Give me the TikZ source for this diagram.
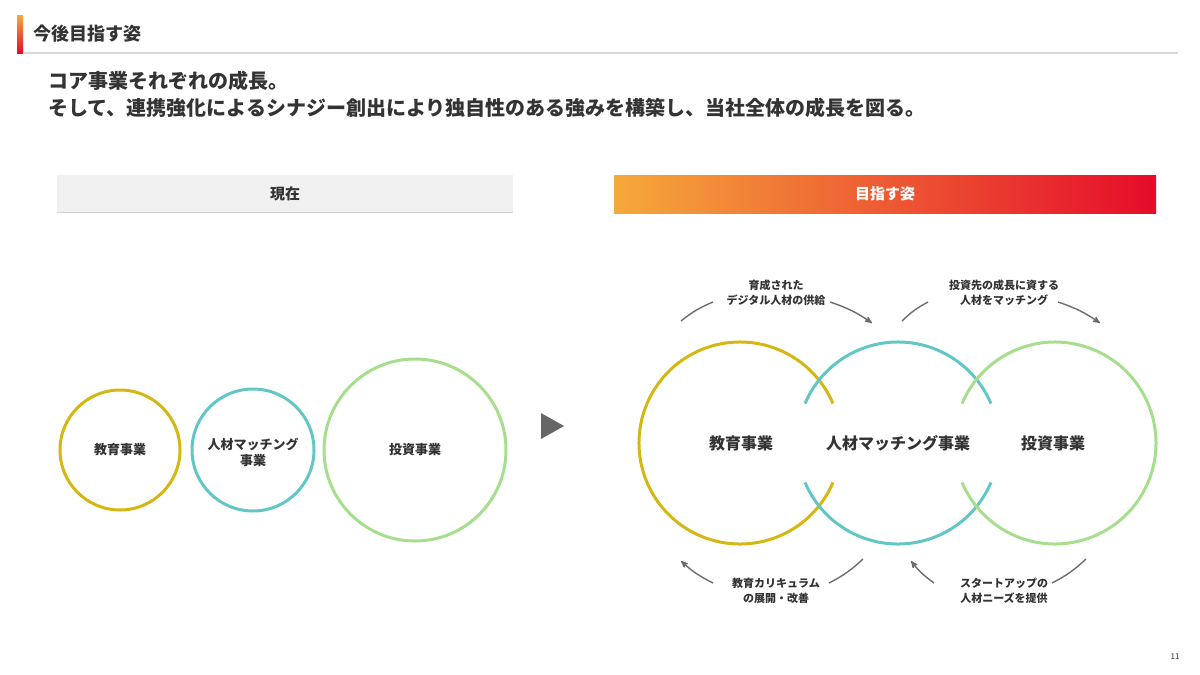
\documentclass[tikz,border=0pt]{standalone}
\usepackage{fontspec}
\setmainfont{Noto Sans CJK JP}
\usetikzlibrary{arrows,positioning}
\definecolor{txt}{HTML}{333333}
\definecolor{edu}{HTML}{D4B713}
\definecolor{hr}{HTML}{62C6C6}
\definecolor{inv}{HTML}{A6DE8E}
\definecolor{org}{HTML}{F5A93A}
\definecolor{rd}{HTML}{E60B2B}
\tikzset{
    %Define standard arrow tip
    >=stealth',
    % circle labels
    lbl/.style={text=txt, font=\bfseries\fontsize{16}{18}\selectfont, align=center},
    small/.style={text=txt, font=\bfseries\fontsize{13}{16}\selectfont, align=center},
    note/.style={text=txt, font=\bfseries\fontsize{11}{15}\selectfont, align=center},
    % Define ring style
    ring/.style={line width=3pt},
    % Define arrow style
    pil/.style={draw=gray!85!black, line width=1.4pt}
}
\begin{document}
\begin{tikzpicture}[x=1pt,y=-1pt]
\useasboundingbox (0,0) rectangle (1200,675);
% title
\shade[top color=org, bottom color=rd] (17,15) rectangle (23,53);
\draw[gray!30, line width=1.5pt] (23,53) -- (1178,53);
\node[anchor=west, text=txt, font=\bfseries\fontsize{18}{20}\selectfont] (title) at (30,34) {今後目指す姿};
\node[anchor=west, text=txt, font=\bfseries\fontsize{20}{27}\selectfont, align=left] (lead) at (45,94)
  {コア事業それぞれの成長。\\そして、連携強化によるシナジー創出により独自性のある強みを構築し、当社全体の成長を図る。};
% headers
\fill[gray!12] (57,175) rectangle (513,212);
\draw[gray!35] (57,212) -- (513,212);
\node[font=\bfseries\fontsize{15}{18}\selectfont, text=txt] (now) at (285,194) {現在};
\shade[left color=org, right color=rd] (614,175) rectangle (1156,213);
\node[font=\bfseries\fontsize{15}{18}\selectfont, text=white] (goal) at (885,194) {目指す姿};
% current
\draw[edu, ring] (120,450) circle (60);
\draw[hr, ring] (253,450) circle (61);
\draw[inv, ring] (415,450) circle (91);
\node[small] (edu1) at (120,450) {教育事業};
\node[small] (hr1) at (253,452) {人材マッチング\\事業};
\node[small] (inv1) at (415,450) {投資事業};
\fill[gray!80!black] (541,413) -- (564,426) -- (541,439) -- cycle;
% target
\draw[edu, ring] (740,443) ++(23:101) arc (23:337:101);
\draw[hr, ring] (898,443) ++(23:101) arc (23:157:101);
\draw[hr, ring] (898,443) ++(203:101) arc (203:337:101);
\draw[inv, ring] (1055,443) ++(203:101) arc (203:517:101);
\node[lbl] (edu2) at (741,443) {教育事業};
\node[lbl] (hr2) at (898,443) {人材マッチング事業};
\node[lbl] (inv2) at (1053,443) {投資事業};
% flows
\node[note] (f1) at (776,293) {育成された\\デジタル人材の供給};
\node[note] (f2) at (1004,293) {投資先の成長に資する\\人材をマッチング};
\node[note] (f3) at (776,591) {教育カリキュラム\\の展開・改善};
\node[note] (f4) at (1004,591) {スタートアップの\\人材ニーズを提供};
\coordinate (a1) at (681,321); \coordinate (a2) at (713,302);
\coordinate (a3) at (830,302); \coordinate (a4) at (872,323);
\coordinate (b1) at (902,321); \coordinate (b2) at (928,302);
\coordinate (b3) at (1058,302); \coordinate (b4) at (1100,323);
\coordinate (c1) at (863,559); \coordinate (c2) at (829,583);
\coordinate (c3) at (713,583); \coordinate (c4) at (681,561);
\coordinate (d1) at (1086,559); \coordinate (d2) at (1052,583);
\coordinate (d3) at (934,583); \coordinate (d4) at (911,561);
\draw[pil] (a1) to[bend left=8] (a2);
\draw[pil,->] (a3) to[bend left=8] (a4);
\draw[pil] (b1) to[bend left=8] (b2);
\draw[pil,->] (b3) to[bend left=8] (b4);
\draw[pil] (c1) to[bend left=8] (c2);
\draw[pil,->] (c3) to[bend left=8] (c4);
\draw[pil] (d1) to[bend left=8] (d2);
\draw[pil,->] (d3) to[bend left=8] (d4);
\node[text=txt, font=\fontsize{8}{9}\selectfont] (page) at (1175,657) {11};
\end{tikzpicture}
\end{document}
